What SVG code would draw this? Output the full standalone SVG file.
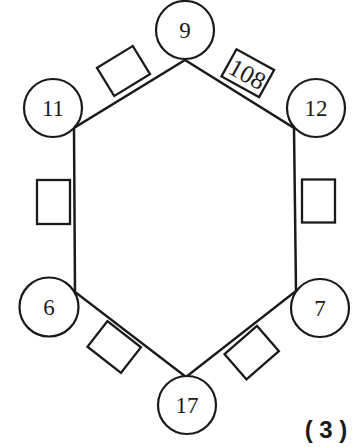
<svg xmlns="http://www.w3.org/2000/svg" width="363" height="447" viewBox="0 0 363 447">
<style>
.edge{stroke:#1a1a1a;stroke-width:2.5;fill:none;stroke-linecap:round}
.node circle{fill:#fff;stroke:#1a1a1a;stroke-width:2.2}
.node text{font-family:"Liberation Serif","DejaVu Serif",serif;font-size:23px;fill:#1a1a1a;text-anchor:middle;dominant-baseline:central}
.box rect{fill:#fff;stroke:#1a1a1a;stroke-width:2.3}
.box text{font-family:"Liberation Serif","DejaVu Serif",serif;font-size:25px;fill:#1a1a1a;text-anchor:middle;dominant-baseline:central}
.cap{font-family:"Liberation Sans","DejaVu Sans",sans-serif;font-size:24px;font-weight:bold;fill:#1a1a1a;text-anchor:middle}
</style>
<rect width="363" height="447" fill="#fff"/>
<g id="connectors">
<polyline class="edge" points="185,60 294,128 296,291 186,377 75,292 74,128 185,60"/>
</g>
<g id="n9" class="node"><circle cx="185" cy="30" r="29"/><text x="185" y="30">9</text></g>
<g id="n11" class="node"><circle cx="53" cy="108" r="29"/><text x="53" y="108">11</text></g>
<g id="n12" class="node"><circle cx="316" cy="108" r="29"/><text x="316" y="108">12</text></g>
<g id="n6" class="node"><circle cx="49" cy="307" r="29.5"/><text x="49" y="307">6</text></g>
<g id="n7" class="node"><circle cx="320" cy="308" r="29"/><text x="320" y="308">7</text></g>
<g id="n17" class="node"><circle cx="187" cy="405" r="29"/><text x="187" y="405">17</text></g>
<g id="b_top_left" class="box" transform="translate(123.5,71) rotate(-31.5)"><rect x="-21" y="-16.5" width="42" height="33"/></g>
<g id="b_top_right" class="box" transform="translate(247.8,73.2) rotate(29)"><rect x="-21.5" y="-15.5" width="43" height="31"/><text x="0" y="1">108</text></g>
<g id="b_left" class="box"><rect x="37" y="180" width="33" height="44"/></g>
<g id="b_right" class="box"><rect x="302" y="179.5" width="33" height="43"/></g>
<g id="b_bottom_left" class="box" transform="translate(114.2,347) rotate(38)"><rect x="-21.25" y="-16.2" width="42.5" height="32.4"/></g>
<g id="b_bottom_right" class="box" transform="translate(251.7,352.7) rotate(-41)"><rect x="-21.5" y="-16.7" width="43" height="33.4"/></g>
<text class="cap" x="326" y="438">( 3 )</text>
</svg>
